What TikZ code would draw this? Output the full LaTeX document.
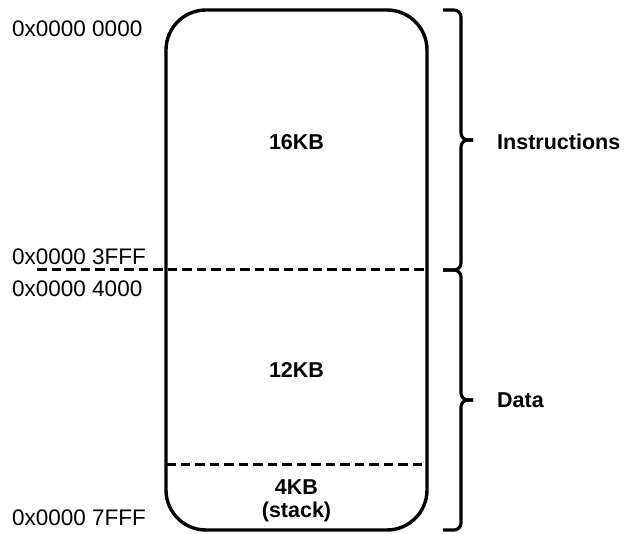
\documentclass[tikz,border=0pt]{standalone}
\usepackage{fontspec}
\setmainfont{Liberation Sans}
\begin{document}
\begin{tikzpicture}[x=1pt,y=-1pt,
  addr/.style={anchor=base west,inner sep=0pt,font=\fontsize{22.5}{26}\selectfont},
  size/.style={anchor=base,inner sep=0pt,font=\bfseries\fontsize{21.5}{25}\selectfont},
  region/.style={anchor=base west,inner sep=0pt,font=\bfseries\fontsize{21.5}{25}\selectfont},
  memblock/.style={draw,line width=3.4pt,rounded corners=40pt,minimum width=261pt,minimum height=520pt,inner sep=0pt,outer sep=0pt},
  split/.style={line width=3pt,dash pattern=on 9.5pt off 5pt},
  bracepath/.style={line width=3.1pt,rounded corners=7pt}]
\useasboundingbox (0,0) rectangle (625,534);

% memory block
\node[memblock] (mem) at (296.5,270) {};

% boundaries between regions
\coordinate (s1) at (37,270);
\coordinate (s2) at (166,465);
\draw[split] (s1) -- (s1 -| mem.east);
\draw[split] (s2) -- (s2 -| mem.east);

% region sizes
\node[size] (k16) at (296.5,150) {16KB};
\node[size] (k12) at (296.5,377.5) {12KB};
\node[size] (k4) at (296.5,495) {4KB};
\node[size] (stk) at (296.5,518) {(stack)};

% addresses
\node[addr] (a0) at (12,36.5) {0x0000 0000};
\node[addr] (a1) at (12,265) {0x0000 3FFF};
\node[addr] (a2) at (12,297) {0x0000 4000};
\node[addr] (a3) at (12,526) {0x0000 7FFF};

% braces
\coordinate (b1t) at (443,10);
\coordinate (b1m) at (473,140);
\coordinate (b1b) at (443,270);
\coordinate (b2m) at (473,400);
\coordinate (b2b) at (443,530);
\draw[bracepath] (b1t) -- (461,10) -- (461,140) -- (b1m);
\draw[bracepath] (b1b) -- (461,270) -- (461,140) -- (b1m);
\draw[bracepath] (b1b) -- (461,270) -- (461,400) -- (b2m);
\draw[bracepath] (b2b) -- (461,530) -- (461,400) -- (b2m);

% region names
\node[region] (ins) at (497,150) {Instructions};
\node[region] (dat) at (497,408) {Data};
\end{tikzpicture}
\end{document}
